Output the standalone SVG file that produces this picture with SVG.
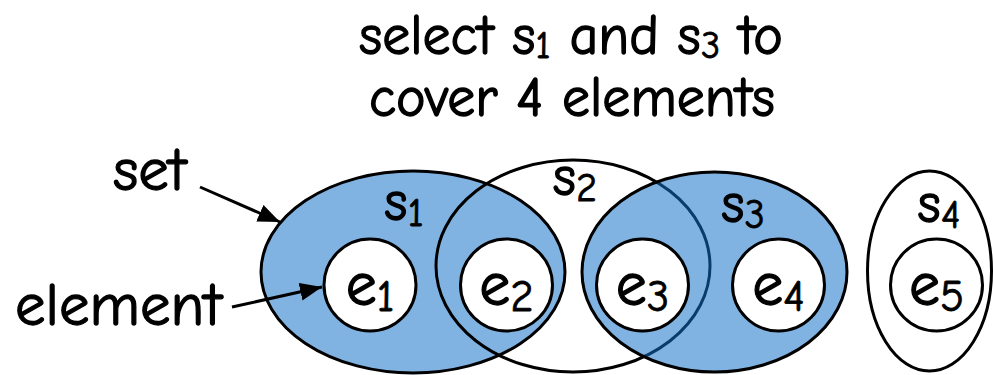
<svg xmlns="http://www.w3.org/2000/svg" width="993" height="375" viewBox="0 0 993 375">
<defs>
<style>
text{font-family:"Comic Neue","DejaVu Sans","Liberation Sans",sans-serif;fill:#000;stroke:#000;stroke-width:1.3}
.title{font-size:56px;text-anchor:middle}
.lab{font-size:61px}
.sl{font-size:56px;text-anchor:middle}
.el{font-size:62px;text-anchor:middle}
.sub{font-size:0.72em;stroke-width:0.8}
.tsub{font-size:0.68em;stroke-width:0.8}
.set{stroke:#000;stroke-width:3}
.sel{fill:#1370C8;fill-opacity:0.535}
.elem{fill:#fff;stroke:#000;stroke-width:3}
.conn{stroke:#000;stroke-width:3;fill:none}
</style>
<marker id="ah" markerWidth="22" markerHeight="18" refX="22" refY="9" orient="auto" markerUnits="userSpaceOnUse" viewBox="0 0 22 18">
<path d="M0,0 L22,9 L0,18 Z" fill="#000"/>
</marker>
</defs>
<rect width="993" height="375" fill="#fff"/>
<g id="title">
<text class="title" x="571" y="54">select s<tspan class="tsub" dy="4">1</tspan><tspan dy="-4"> and s</tspan><tspan class="tsub" dy="4">3</tspan><tspan dy="-4"> to</tspan></text>
<text class="title" x="572" y="116">cover 4 elements</text>
</g>
<g id="s1"><ellipse class="set sel" cx="413" cy="272" rx="152" ry="101"/></g>
<g id="s2"><ellipse class="set" fill="none" cx="573" cy="266" rx="137" ry="106"/></g>
<g id="s3"><ellipse class="set sel" cx="714.5" cy="272" rx="132.5" ry="100"/></g>
<g id="s4"><ellipse class="set" fill="none" cx="929.5" cy="271" rx="62" ry="100"/></g>
<g id="s1-label"><text class="sl" x="404" y="220">s<tspan class="sub" dy="6">1</tspan></text></g>
<g id="s2-label"><text class="sl" x="575" y="195">s<tspan class="sub" dy="6">2</tspan></text></g>
<g id="s3-label"><text class="sl" x="743" y="222">s<tspan class="sub" dy="6">3</tspan></text></g>
<g id="s4-label"><text class="sl" x="939" y="222">s<tspan class="sub" dy="6">4</tspan></text></g>
<g id="e1"><circle class="elem" cx="370" cy="285" r="46"/><text class="el" x="370" y="305">e<tspan class="sub" dy="6">1</tspan></text></g>
<g id="e2"><circle class="elem" cx="506.5" cy="285" r="46"/><text class="el" x="506.5" y="305">e<tspan class="sub" dy="6">2</tspan></text></g>
<g id="e3"><circle class="elem" cx="642.5" cy="285" r="46"/><text class="el" x="642.5" y="305">e<tspan class="sub" dy="6">3</tspan></text></g>
<g id="e4"><circle class="elem" cx="778.5" cy="285" r="46"/><text class="el" x="778.5" y="305">e<tspan class="sub" dy="6">4</tspan></text></g>
<g id="e5"><circle class="elem" cx="936.5" cy="285" r="46"/><text class="el" x="936.5" y="305">e<tspan class="sub" dy="6">5</tspan></text></g>
<g id="set-label"><text class="lab" x="113" y="190">set</text></g>
<g id="element-label"><text class="lab" x="15" y="325">element</text></g>
<g id="connectors">
<line class="conn" x1="200" y1="187" x2="280" y2="222" marker-end="url(#ah)"/>
<line class="conn" x1="232" y1="307" x2="322" y2="287" marker-end="url(#ah)"/>
</g>
</svg>
